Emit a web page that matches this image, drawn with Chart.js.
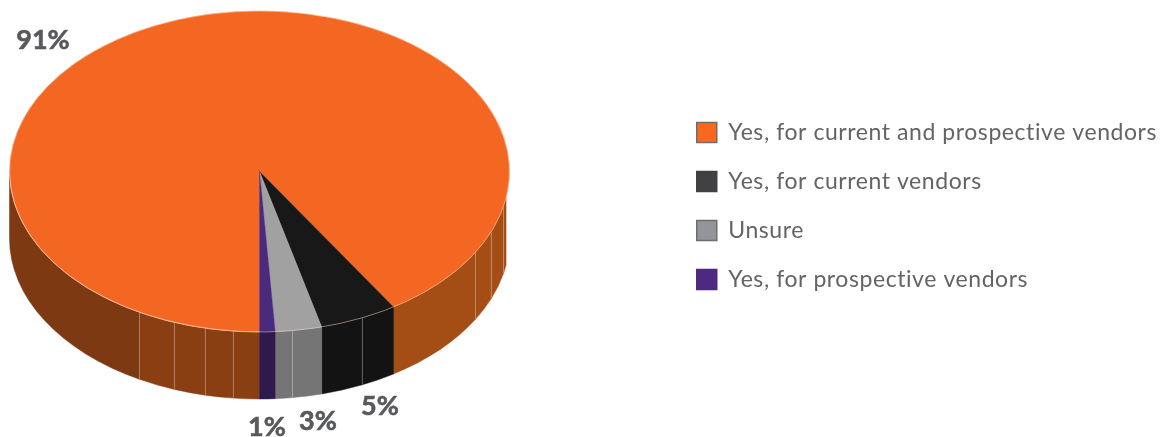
<!DOCTYPE html>
<html>
<head>
<meta charset="utf-8">
<title>Vendor assessment</title>
<script src="https://cdn.jsdelivr.net/npm/chart.js@4"></script>
<style>
  html, body { margin: 0; padding: 0; background: #fff; }
  canvas { display: block; }
</style>
</head>
<body>
<canvas id="pie" width="1169" height="437"></canvas>
<script>
const categories = [
    'Yes, for current and prospective vendors',
    'Yes, for current vendors',
    'Unsure',
    'Yes, for prospective vendors'
];
const values = [91, 5, 3, 1];

const topColors = ['#f46722', '#181818', '#a1a1a1', '#4a2a7c'];
const wallColors = ['#a44e16', '#131313', '#757575', '#2f1a4d'];
const legendColors = ['#f9681f', '#414042', '#939598', '#4d2a80'];
const legendBorders = ['#6d6e71', '#414042', '#6d6e71', '#4d2a80'];

// the orange wall gets darker towards the left
const orangeWallNear = '#8a3f13';
const orangeWallFar = '#7d3a12';

// where the facets of the side wall meet, in degrees clockwise from the +x axis
const wallSeams = [12.6, 22, 30.2, 65.7, 82.4, 96, 102.5, 109.9, 118.7];
// the wall stops a little short of the right-hand tip of the ellipse
const wallFirstAngle = 9.5;

// percent labels sit around the pie by hand
const labelSpots = [[43, 40], [380, 406], [318, 421], [267, 427]];

const pieCentre = { x: 259.5, y: 171.5 };
const pieRadius = 250;
const tilt = 0.642;
const wallDepth = 67;

const toRad = d => d * Math.PI / 180;
const toDeg = r => r * 180 / Math.PI;

function wallColor(index, deg) {
    if (index !== 0) return wallColors[index];
    if (deg < 90) return wallColors[0];
    return deg > 118.7 ? orangeWallFar : orangeWallNear;
}

function drawFacet(ctx, a, b, color) {
    const { x, y } = pieCentre;
    const ry = pieRadius * tilt;
    ctx.beginPath();
    ctx.ellipse(x, y, pieRadius, ry, 0, toRad(a), toRad(b));
    ctx.ellipse(x, y + wallDepth, pieRadius, ry, 0, toRad(b), toRad(a), true);
    ctx.closePath();
    ctx.fillStyle = color;
    ctx.strokeStyle = color;
    ctx.lineWidth = 0.5;
    ctx.fill();
    ctx.stroke();
}

const tiltedPie = {
    id: 'tiltedPie',
    beforeLayout(chart) {
        chart.ctx.letterSpacing = '0.57px';
    },
    beforeDatasetsDraw(chart) {
        const ctx = chart.ctx;
        const arcs = chart.getDatasetMeta(0).data;
        const ry = pieRadius * tilt;

        ctx.save();
        arcs.forEach((arc, i) => {
            // only the part of each slice in the front half of the pie shows a wall
            let start = toDeg(arc.startAngle);
            let end = toDeg(arc.endAngle);
            [[start, Math.min(end, 180)], [Math.max(start, 360 + wallFirstAngle), end]].forEach(([from, to]) => {
                if (to <= from) return;
                const cuts = wallSeams
                    .flatMap(s => [s, s + 360])
                    .filter(s => s > from && s < to)
                    .sort((p, q) => p - q);
                const stops = [from, ...cuts, to];
                for (let k = 0; k < stops.length - 1; k++) {
                    drawFacet(ctx, stops[k], stops[k + 1], wallColor(i, (stops[k] + stops[k + 1]) / 2 % 360));
                }
            });
        });

        ctx.strokeStyle = 'rgba(255,255,255,0.3)';
        ctx.lineWidth = 1;
        wallSeams.forEach(s => {
            const px = pieCentre.x + pieRadius * Math.cos(toRad(s));
            const py = pieCentre.y + ry * Math.sin(toRad(s));
            ctx.beginPath();
            ctx.moveTo(px, py);
            ctx.lineTo(px, py + wallDepth);
            ctx.stroke();
        });
        ctx.restore();
    },
    beforeDatasetDraw(chart) {
        const ctx = chart.ctx;
        const arc = chart.getDatasetMeta(0).data[0];
        ctx.save();
        ctx.translate(pieCentre.x, pieCentre.y);
        ctx.scale(1, tilt);
        ctx.translate(-arc.x, -arc.y);
    },
    afterDatasetDraw(chart) {
        chart.ctx.restore();
    },
    afterDatasetsDraw(chart) {
        const ctx = chart.ctx;
        const arcs = chart.getDatasetMeta(0).data;
        ctx.save();

        // thin light rim along the front of the orange slice
        ctx.strokeStyle = 'rgba(255,225,205,0.55)';
        ctx.lineWidth = 0.8;
        ctx.beginPath();
        ctx.ellipse(pieCentre.x, pieCentre.y, pieRadius, pieRadius * tilt, 0, arcs[0].startAngle, Math.PI);
        ctx.stroke();
        ctx.beginPath();
        ctx.ellipse(pieCentre.x, pieCentre.y, pieRadius, pieRadius * tilt, 0, toRad(wallFirstAngle), arcs[1].startAngle);
        ctx.stroke();

        ctx.letterSpacing = '0px';
        ctx.font = 'bold 27px Lato';
        ctx.fillStyle = '#58595b';
        ctx.strokeStyle = '#58595b';
        ctx.lineWidth = 0.6;
        ctx.textAlign = 'center';
        ctx.textBaseline = 'middle';
        values.forEach((v, i) => {
            ctx.fillText(v + '%', labelSpots[i][0], labelSpots[i][1]);
            ctx.strokeText(v + '%', labelSpots[i][0], labelSpots[i][1]);
        });
        ctx.restore();
    }
};

new Chart(document.getElementById('pie').getContext('2d'), {
    type: 'pie',
    plugins: [tiltedPie],
    data: {
        labels: categories,
        datasets: [{
            data: values,
            backgroundColor: topColors,
            borderColor: topColors,
            borderWidth: 0.5,
            clip: false
        }]
    },
    options: {
        responsive: false,
        animation: false,
        rotation: 180,
        radius: pieRadius,
        layout: { padding: { right: 2, bottom: 25 } },
        plugins: {
            tooltip: { enabled: false },
            legend: {
                position: 'right',
                labels: {
                    boxWidth: 20,
                    boxHeight: 20,
                    padding: 26,
                    color: '#636466',
                    font: { family: 'Lato', size: 23 },
                    generateLabels: () => categories.map((text, i) => ({
                        text,
                        index: i,
                        fillStyle: legendColors[i],
                        strokeStyle: legendBorders[i],
                        fontColor: '#636466',
                        lineWidth: 1.5,
                        hidden: false
                    }))
                }
            }
        }
    }
});
</script>
</body>
</html>
